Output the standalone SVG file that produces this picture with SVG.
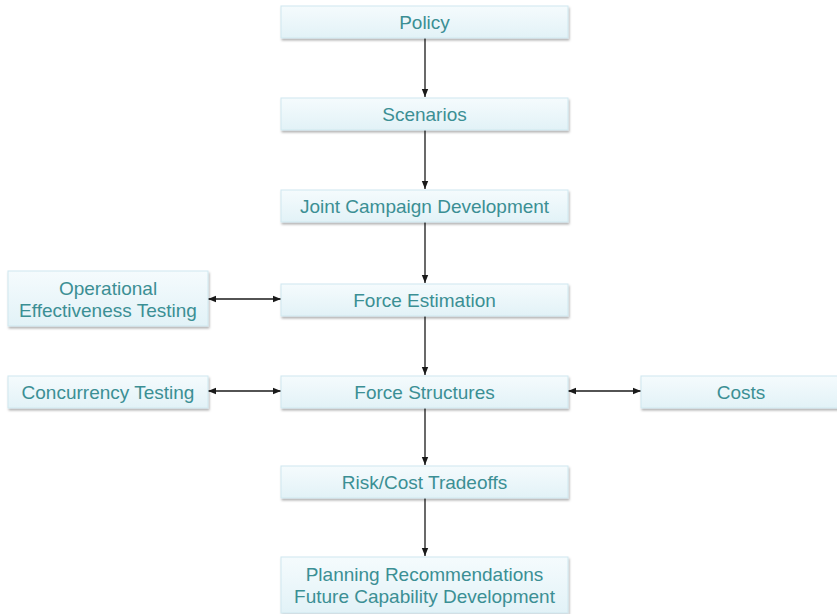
<svg xmlns="http://www.w3.org/2000/svg" width="837" height="614" viewBox="0 0 837 614">
<defs>
<linearGradient id="g" x1="0" y1="0" x2="0" y2="1">
<stop offset="0" stop-color="#f5fbfd"/>
<stop offset="1" stop-color="#e2f2f7"/>
</linearGradient>
<filter id="sh" x="-5%" y="-10%" width="110%" height="130%">
<feDropShadow dx="1" dy="2" stdDeviation="1" flood-color="#000" flood-opacity="0.3"/>
</filter>
<marker id="ah" viewBox="0 0 10 10" refX="10" refY="5" markerWidth="8" markerHeight="8" orient="auto-start-reverse" markerUnits="userSpaceOnUse">
<path d="M0,1 L10,5 L0,9 Z" fill="#1a1a1a"/>
</marker>
</defs>
<style>
.box{fill:url(#g);stroke:#cfe8ef;stroke-width:1;filter:url(#sh)}
.t{font-family:"Liberation Sans",Arial,sans-serif;font-size:19px;fill:#3b8f94;text-anchor:middle}
.c{stroke:#1a1a1a;stroke-width:1.3;fill:none;marker-end:url(#ah)}
.b{marker-start:url(#ah)}
</style>
<rect width="837" height="614" fill="#fff"/>
<g id="connectors">
<line class="c" x1="425" y1="38" x2="425" y2="97"/>
<line class="c" x1="425" y1="130" x2="425" y2="189"/>
<line class="c" x1="425" y1="222" x2="425" y2="283"/>
<line class="c" x1="425" y1="316" x2="425" y2="375"/>
<line class="c" x1="425" y1="408" x2="425" y2="465"/>
<line class="c" x1="425" y1="498" x2="425" y2="556"/>
<line class="c b" x1="208" y1="299" x2="281" y2="299"/>
<line class="c b" x1="208" y1="391" x2="281" y2="391"/>
<line class="c b" x1="568" y1="391" x2="641" y2="391"/>
</g>
<g id="policy"><rect class="box" x="281" y="6" width="287" height="32"/><text class="t" x="424.5" y="29">Policy</text></g>
<g id="scenarios"><rect class="box" x="281" y="98" width="287" height="32"/><text class="t" x="424.5" y="121">Scenarios</text></g>
<g id="joint"><rect class="box" x="281" y="190" width="287" height="32"/><text class="t" x="424.5" y="213">Joint Campaign Development</text></g>
<g id="forceest"><rect class="box" x="281" y="284" width="287" height="32"/><text class="t" x="424.5" y="307">Force Estimation</text></g>
<g id="forcestruct"><rect class="box" x="281" y="376" width="287" height="32"/><text class="t" x="424.5" y="399">Force Structures</text></g>
<g id="risk"><rect class="box" x="281" y="466" width="287" height="32"/><text class="t" x="424.5" y="489">Risk/Cost Tradeoffs</text></g>
<g id="planning"><rect class="box" x="281" y="557" width="287" height="56"/><text class="t" x="424.5" y="581">Planning Recommendations</text><text class="t" x="424.5" y="603">Future Capability Development</text></g>
<g id="oetest"><rect class="box" x="8" y="271" width="200" height="55"/><text class="t" x="108" y="295">Operational</text><text class="t" x="108" y="317">Effectiveness Testing</text></g>
<g id="concurrency"><rect class="box" x="8" y="376" width="200" height="32"/><text class="t" x="108" y="399">Concurrency Testing</text></g>
<g id="costs"><rect class="box" x="641" y="376" width="200" height="32"/><text class="t" x="741" y="399">Costs</text></g>
</svg>
